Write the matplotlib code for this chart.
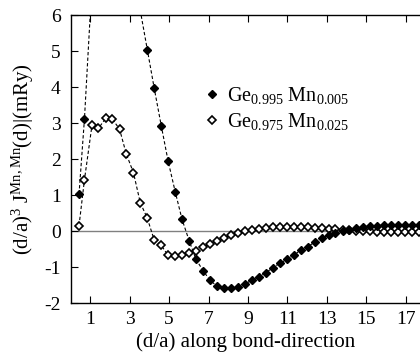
import matplotlib
matplotlib.use("Agg")
import matplotlib.pyplot as plt

plt.rcParams['font.family'] = ['Liberation Serif', 'DejaVu Serif']
plt.rcParams['mathtext.fontset'] = 'custom'
plt.rcParams['mathtext.rm'] = 'Liberation Serif'
plt.rcParams['mathtext.it'] = 'Liberation Serif'
plt.rcParams['axes.unicode_minus'] = False

# distance along bond direction (d/a)
d = [0.433, 0.707, 1.090, 1.414, 1.785, 2.121, 2.487, 2.828, 3.192, 3.536,
     3.897, 4.243, 4.603, 4.950, 5.309, 5.657, 6.016, 6.364, 6.722, 7.071,
     7.429, 7.778, 8.136, 8.485, 8.842, 9.192, 9.549, 9.899, 10.256, 10.607,
     10.963, 11.314, 11.670, 12.021, 12.377, 12.728, 13.084, 13.435, 13.791, 14.142,
     14.498, 14.849, 15.205, 15.556, 15.912, 16.263, 16.619, 16.971, 17.326, 17.678]

# Ge0.995 Mn0.005 (filled diamonds)
j_low = [1.03, 3.11, 6.9, 9.5, 11.5, 12.3, 11.8, 10.4, 8.6, 6.13,
         5.03, 3.97, 2.92, 1.94, 1.09, 0.32, -0.27, -0.79, -1.10, -1.37,
         -1.53, -1.59, -1.59, -1.55, -1.47, -1.37, -1.27, -1.16, -1.02, -0.90,
         -0.79, -0.67, -0.54, -0.44, -0.31, -0.20, -0.11, -0.05, 0.0, 0.04,
         0.08, 0.11, 0.14, 0.15, 0.16, 0.17, 0.17, 0.17, 0.17, 0.17]

# Ge0.975 Mn0.025 (open diamonds)
j_high = [0.15, 1.42, 2.94, 2.85, 3.13, 3.11, 2.83, 2.14, 1.62, 0.79,
          0.35, -0.25, -0.40, -0.68, -0.69, -0.68, -0.62, -0.55, -0.45, -0.36,
          -0.27, -0.19, -0.12, -0.06, -0.01, 0.03, 0.06, 0.08, 0.10, 0.11,
          0.11, 0.11, 0.10, 0.10, 0.09, 0.08, 0.06, 0.05, 0.04, 0.02,
          0.01, 0.0, -0.01, -0.02, -0.02, -0.03, -0.03, -0.03, -0.03, -0.03]

labels = [r'Ge$_{0.995}$ Mn$_{0.005}$', r'Ge$_{0.975}$ Mn$_{0.025}$']
xticks = [1, 3, 5, 7, 9, 11, 13, 15, 17]
yticks = [-2, -1, 0, 1, 2, 3, 4, 5, 6]

fig = plt.figure(figsize=(4.2, 3.55), dpi=100)
ax = fig.add_axes([70.5/420, 1-303/355, 1-70.5/420, (303-15)/355])

ax.axhline(0, color='#808080', lw=1.0, zorder=1)
ax.plot(d, j_low, ls=(0, (3, 2)), color='black', lw=0.8, marker='D', ms=4.3,
        mfc='black', mec='black', label=labels[0], zorder=3)
ax.plot(d, j_high, ls=(0, (3, 2)), color='black', lw=0.8, marker='D', ms=4.3,
        mfc='white', mec='black', mew=1.2, label=labels[1], zorder=2)

ax.set_xlim(0, 17.72)
ax.set_ylim(-2, 6)
ax.set_xticks(xticks)
ax.set_yticks(yticks)
ax.tick_params(direction='in', length=5, width=0.8, labelsize=14, top=True,
               right=False)
ax.tick_params(axis='y', pad=7)
ax.tick_params(axis='x', pad=6)
ax.spines['right'].set_visible(False)
for s in ['left', 'top', 'bottom']:
    ax.spines[s].set_linewidth(1.0)

ax.set_xlabel('(d/a) along bond-direction', fontsize=15, labelpad=3)
ax.set_ylabel(r'(d/a)$^{3}$ J$^{\mathrm{Mn,Mn}}$(d)|(mRy)', fontsize=15, labelpad=6)

leg = ax.legend(handles=[plt.Line2D([], [], ls='none', marker='D', ms=4.3, mfc='black', mec='black'),
                         plt.Line2D([], [], ls='none', marker='D', ms=4.3, mfc='white', mec='black', mew=1.2)],
                labels=labels, frameon=False, loc='upper left',
                bbox_to_anchor=(0.36, 0.785), fontsize=14.5, handlelength=0.8,
                handletextpad=0.3, labelspacing=0.25, borderaxespad=0)

fig.savefig('out.png', dpi=100)
